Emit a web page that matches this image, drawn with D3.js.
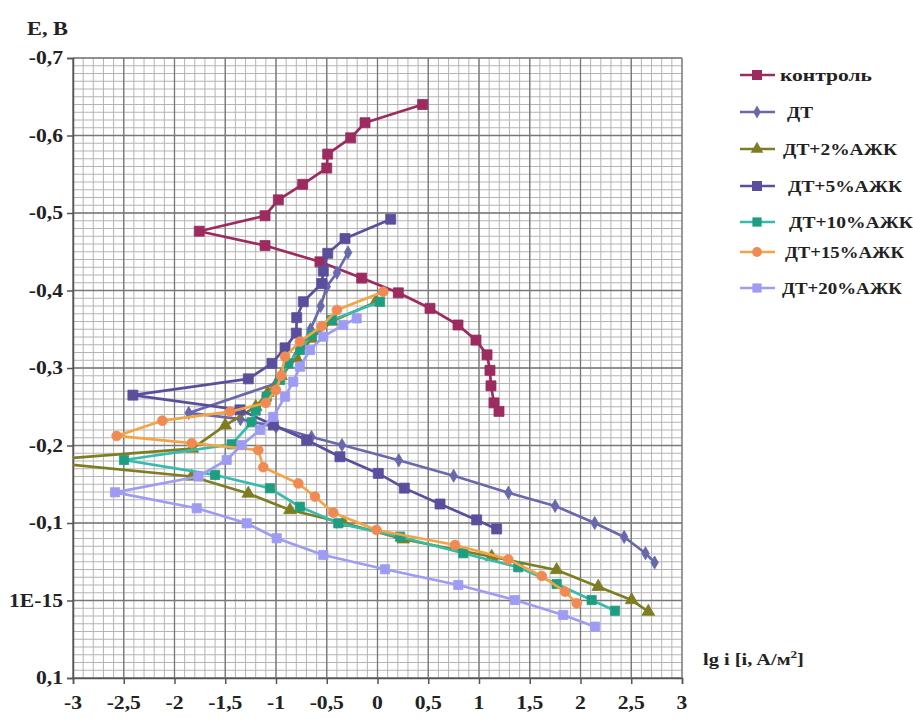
<!DOCTYPE html>
<html>
<head>
<meta charset="utf-8">
<script src="https://cdn.jsdelivr.net/npm/d3@7/dist/d3.min.js"></script>
<style>
  html, body { margin: 0; padding: 0; background: #fff; }
  svg { display: block; }
  text { font-family: "Liberation Serif", "Times New Roman", serif; font-weight: bold; fill: #222; }
</style>
</head>
<body>
<svg id="chart" width="913" height="719"></svg>
<script>
// Polarisation curves: potential E (V) versus lg i (A/m²)
const xTicks = [-3, -2.5, -2, -1.5, -1, -0.5, 0, 0.5, 1, 1.5, 2, 2.5, 3];
const yTicks = [-0.7, -0.6, -0.5, -0.4, -0.3, -0.2, -0.1, 0, 0.1];

const seriesNames = ["контроль", "ДТ", "ДТ+2%АЖК", "ДТ+5%АЖК", "ДТ+10%АЖК", "ДТ+15%АЖК", "ДТ+20%АЖК"];

const control = [[0.445,-0.640],[-0.123,-0.6165],[-0.264,-0.597],[-0.491,-0.576],[-0.50,-0.558],[-0.737,-0.537],
  [-0.977,-0.517],[-1.108,-0.4965],[-1.756,-0.4765],[-1.108,-0.458],[-0.567,-0.437],[-0.156,-0.416],[0.205,-0.397],
  [0.517,-0.377],[0.793,-0.3555],[0.970,-0.336],[1.079,-0.317],[1.108,-0.297],[1.118,-0.277],[1.148,-0.255],[1.197,-0.244]];

const dt = [[-0.29,-0.449],[-0.40,-0.423],[-0.50,-0.405],[-0.56,-0.38],[-0.66,-0.35],[-0.80,-0.315],[-1.0,-0.28],
  [-1.86,-0.242],[-1.35,-0.234],[-1.0,-0.224],[-0.65,-0.211],[-0.35,-0.2006],[0.21,-0.181],[0.75,-0.161],
  [1.29,-0.139],[1.75,-0.122],[2.14,-0.100],[2.43,-0.082],[2.64,-0.061],[2.73,-0.049]];

const dt2 = [[-0.02,-0.385],[-0.45,-0.36],[-0.65,-0.338],[-0.80,-0.313],[-0.95,-0.29],[-1.08,-0.268],[-1.2,-0.25],
  [-1.5,-0.226],[-1.825,-0.196],[-3.39,-0.180],[-1.83,-0.160],[-1.273,-0.138],[-0.862,-0.1168],[-0.337,-0.1003],
  [0.254,-0.079],[1.125,-0.0565],[1.765,-0.0394],[2.175,-0.0178],[2.504,-0.0006],[2.668,0.0144]];

const dt5 = [[0.13,-0.492],[-0.32,-0.467],[-0.49,-0.448],[-0.534,-0.425],[-0.55,-0.409],[-0.731,-0.3855],[-0.796,-0.365],
  [-0.80,-0.345],[-0.911,-0.326],[-1.04,-0.306],[-1.273,-0.286],[-2.41,-0.265],[-1.355,-0.246],[-1.027,-0.2265],
  [-0.698,-0.207],[-0.37,-0.1855],[0.008,-0.164],[0.264,-0.145],[0.616,-0.1245],[0.977,-0.104],[1.174,-0.0923]];

const dt10 = [[0.025,-0.3855],[-0.451,-0.362],[-0.648,-0.3426],[-0.764,-0.3232],[-0.879,-0.306],[-0.96,-0.2845],
  [-1.092,-0.263],[-1.2,-0.245],[-1.24,-0.23],[-1.437,-0.2015],[-2.497,-0.1813],[-1.60,-0.162],[-1.06,-0.1448],
  [-0.764,-0.121],[-0.386,-0.0996],[0.222,-0.0823],[0.845,-0.061],[1.387,-0.0429],[1.765,-0.0213],[2.11,-0.0006],[2.34,0.0132]];

const dt15 = [[0.057,-0.3985],[-0.40,-0.3748],[-0.55,-0.354],[-0.764,-0.334],[-0.911,-0.3146],[-0.95,-0.29],
  [-1.0,-0.2716],[-1.1,-0.255],[-1.453,-0.2437],[-2.12,-0.232],[-2.57,-0.2123],[-1.83,-0.203],[-1.174,-0.194],
  [-1.125,-0.172],[-0.78,-0.151],[-0.616,-0.134],[-0.435,-0.1133],[-0.01,-0.091],[0.764,-0.0716],[1.289,-0.053],
  [1.618,-0.0316],[1.847,-0.0114],[1.962,0.0036]];

const dt20 = [[-0.205,-0.364],[-0.337,-0.3555],[-0.534,-0.3404],[-0.665,-0.3232],[-0.764,-0.3017],[-0.83,-0.2823],
  [-0.911,-0.263],[-1.027,-0.237],[-1.158,-0.22],[-1.338,-0.2006],[-1.486,-0.1813],[-1.765,-0.16],[-2.586,-0.1396],
  [-1.781,-0.119],[-1.289,-0.0996],[-0.993,-0.0803],[-0.534,-0.0587],[0.074,-0.0403],[0.796,-0.02],[1.355,-0.0006],
  [1.83,0.0187],[2.143,0.0338]];

const seriesData = [control, dt, dt2, dt5, dt10, dt15, dt20];
const lineColors   = ["#9c2b5f", "#6a68ad", "#7f7d22", "#5a4f9c", "#35bcab", "#f3a444", "#9d9cf2"];
const markerColors = ["#9c2b5f", "#6a68ad", "#7f7d22", "#5a4f9c", "#1f9d80", "#f08a52", "#9d9cf2"];
const markerShapes = [d3.symbolSquare, d3.symbolDiamond, d3.symbolTriangle, d3.symbolSquare, d3.symbolSquare, d3.symbolCircle, d3.symbolSquare];
const markerSizes  = [100, 50, 70, 100, 85, 75, 85];
const legendY      = [75, 112, 149, 186, 222, 252, 288];
const legendWidth  = [92, 26, 114, 114, 124, 119, 120];
const legendTextX  = [780, 787, 783, 788, 789, 785, 782];

const svg = d3.select("#chart");
const plotLeft = 73, plotRight = 682, plotTop = 58, plotBottom = 678;

const x = d3.scaleLinear().domain([-3, 3]).range([plotLeft, plotRight]);
const y = d3.scaleLinear().domain([-0.7, 0.1]).range([plotTop, plotBottom]);

const comma = v => String(+v.toFixed(2)).replace(".", ",");
const yFmt = v => Math.abs(v) < 1e-9 ? "1E-15" : comma(v);

// Grid: minor then major
const grid = svg.append("g");
const minorX = d3.range(-3, 3.0001, 0.1).map(v => +v.toFixed(2));
const minorY = d3.range(-0.7, 0.1001, 0.01).map(v => +v.toFixed(3));
grid.selectAll(".mx").data(minorX).join("line")
  .attr("x1", d => x(d)).attr("x2", d => x(d)).attr("y1", plotTop).attr("y2", plotBottom)
  .attr("stroke", "#b4b4b4").attr("stroke-width", 1);
grid.selectAll(".my").data(minorY).join("line")
  .attr("x1", plotLeft).attr("x2", plotRight).attr("y1", d => y(d)).attr("y2", d => y(d))
  .attr("stroke", "#b4b4b4").attr("stroke-width", 1);
grid.selectAll(".Mx").data(xTicks).join("line")
  .attr("x1", d => x(d)).attr("x2", d => x(d)).attr("y1", plotTop).attr("y2", plotBottom)
  .attr("stroke", "#777").attr("stroke-width", 1.3);
grid.selectAll(".My").data(yTicks).join("line")
  .attr("x1", plotLeft).attr("x2", plotRight).attr("y1", d => y(d)).attr("y2", d => y(d))
  .attr("stroke", "#777").attr("stroke-width", 1.3);

// Axes
const yAxis = d3.axisLeft(y).tickValues(yTicks).tickSize(6).tickFormat("");
const xAxis = d3.axisBottom(x).tickValues(xTicks).tickSize(6).tickFormat("");
svg.append("g").attr("transform", `translate(${plotLeft},0)`).call(yAxis)
  .call(g => g.selectAll("path, line").attr("stroke", "#555").attr("stroke-width", 1.5));
svg.append("g").attr("transform", `translate(0,${plotBottom})`).call(xAxis)
  .call(g => g.selectAll("path, line").attr("stroke", "#555").attr("stroke-width", 1.5));

svg.append("g").selectAll("text").data(yTicks).join("text")
  .attr("transform", d => `translate(63,${y(d)}) scale(1.2,1)`)
  .attr("dy", "0.35em").attr("text-anchor", "end").attr("font-size", 18)
  .text(yFmt);
svg.append("g").selectAll("text").data(xTicks).join("text")
  .attr("transform", d => `translate(${x(d)},703) scale(1.2,1)`)
  .attr("dy", "0.35em").attr("text-anchor", "middle").attr("font-size", 18)
  .text(d => comma(d));

// Axis titles
svg.append("text").attr("x", 27).attr("y", 35).attr("font-size", 18)
  .attr("textLength", 41).attr("lengthAdjust", "spacingAndGlyphs").text("E, B");
const xt = svg.append("text").attr("transform", "translate(703,665) scale(1.2,1)").attr("font-size", 17);
xt.append("tspan").text("lg i [i, A/м");
xt.append("tspan").attr("font-size", 11).attr("dy", -7).text("2");
xt.append("tspan").attr("dy", 7).text("]");

// Series
svg.append("clipPath").attr("id", "plotClip").append("rect")
  .attr("x", plotLeft).attr("y", plotTop - 10).attr("width", plotRight - plotLeft + 10).attr("height", plotBottom - plotTop + 10);
const plot = svg.append("g").attr("clip-path", "url(#plotClip)");
const line = d3.line().x(d => x(d[0])).y(d => y(d[1]));

seriesData.forEach((data, i) => {
  const g = plot.append("g");
  g.append("path").datum(data).attr("d", line).attr("fill", "none")
    .attr("stroke", lineColors[i]).attr("stroke-width", 2.7).attr("stroke-linejoin", "round");
  g.selectAll("path.m").data(data).join("path").attr("class", "m")
    .attr("transform", d => `translate(${x(d[0])},${y(d[1])})`)
    .attr("d", d3.symbol().type(markerShapes[i]).size(markerSizes[i]))
    .attr("fill", markerColors[i]).attr("stroke", markerColors[i]).attr("stroke-width", 0.8);
});

// Legend
const leg = svg.append("g");
seriesNames.forEach((name, i) => {
  const ly = legendY[i];
  leg.append("line").attr("x1", 740).attr("x2", 775).attr("y1", ly).attr("y2", ly)
    .attr("stroke", lineColors[i]).attr("stroke-width", 2.7);
  leg.append("path").attr("transform", `translate(757,${ly})`)
    .attr("d", d3.symbol().type(markerShapes[i]).size(markerSizes[i]))
    .attr("fill", markerColors[i]);
  leg.append("text").attr("x", legendTextX[i]).attr("y", ly).attr("dy", "0.35em")
    .attr("font-size", 16).attr("textLength", legendWidth[i]).attr("lengthAdjust", "spacingAndGlyphs")
    .text(name);
});
</script>
</body>
</html>
